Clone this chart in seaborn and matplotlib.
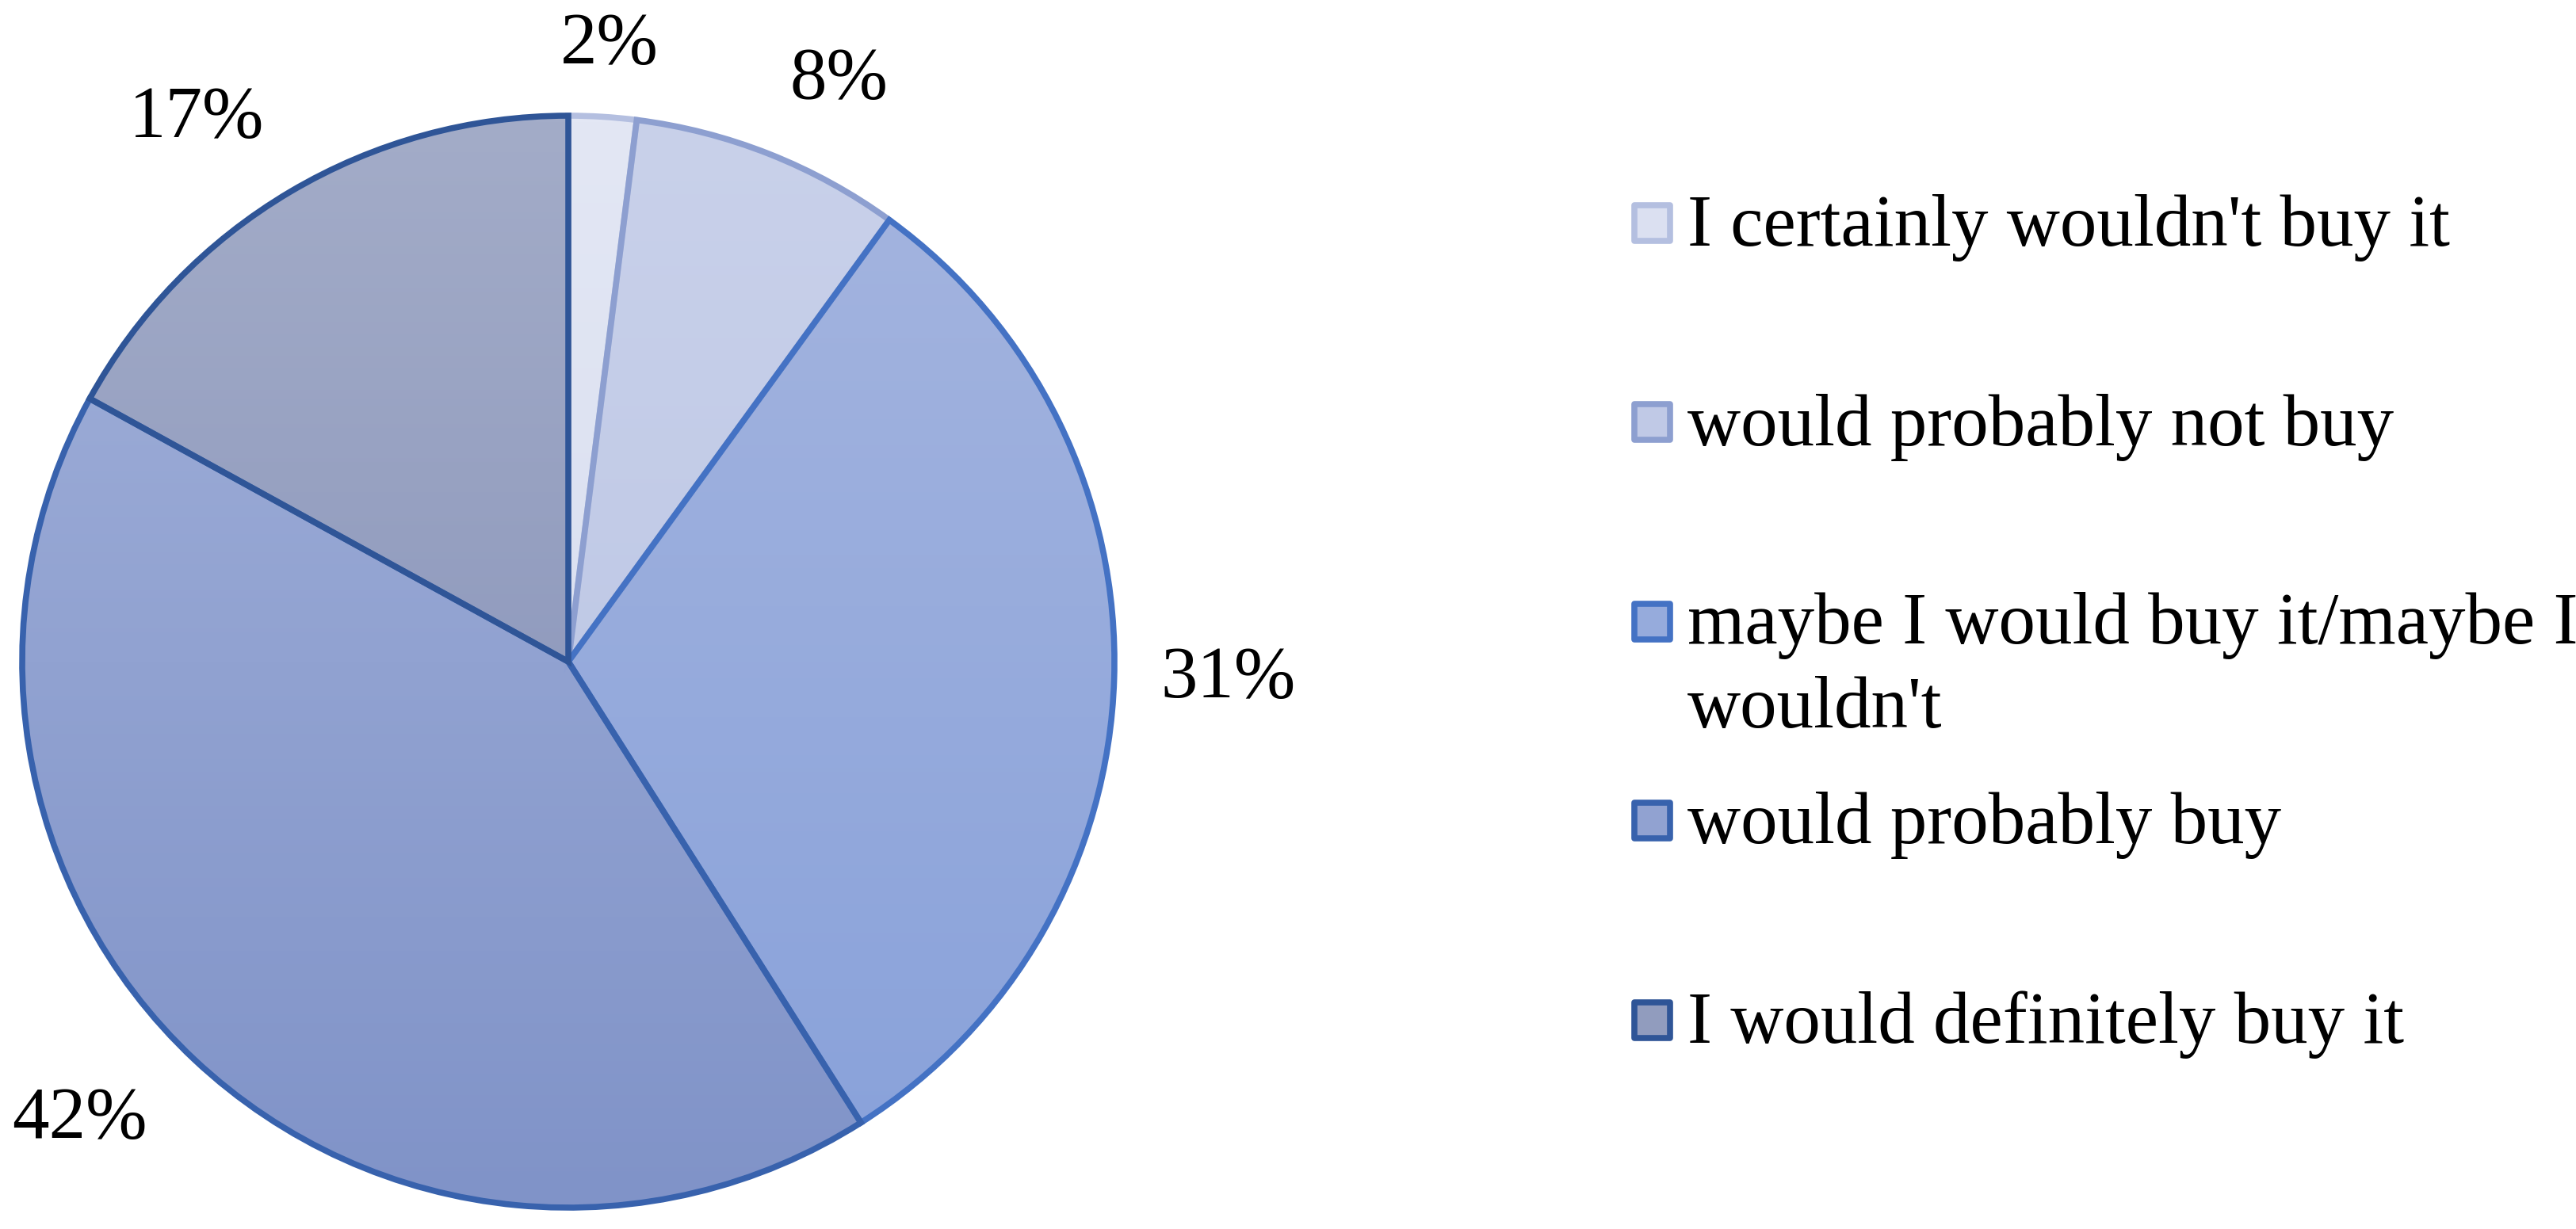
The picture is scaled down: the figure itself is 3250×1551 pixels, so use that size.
import numpy as np
import matplotlib
matplotlib.use("Agg")
import matplotlib.pyplot as plt
import seaborn as sns
from matplotlib.patches import Rectangle

# ---- data ----
categories = [
    "I certainly wouldn't buy it",
    "would probably not buy",
    "maybe I would buy it/maybe I\nwouldn't",
    "would probably buy",
    "I would definitely buy it",
]
shares = [2, 8, 31, 42, 17]
pct_labels = ["2%", "8%", "31%", "42%", "17%"]

# ---- styles ----
fill_top = ["#e3e7f4", "#c9d1ea", "#a5b5df", "#a2b1da", "#a3acc8"]
fill_bottom = ["#d3daee", "#b7c2e3", "#88a1da", "#8093c8", "#808cb5"]
edge_cols = ["#b4bfe0", "#8d9fd0", "#4472c4", "#3862ad", "#2f5597"]
label_pos = [(0.075, 1.128), (0.495, 1.064), (1.208, -0.032), (-0.895, -0.839), (-0.681, 0.993)]

sns.set_theme(style="white")
plt.rcParams['font.family'] = ['Liberation Serif', 'DejaVu Serif']
plt.rcParams['text.color'] = 'black'

W, H = 3250, 1551
fig = plt.figure(figsize=(W / 100, H / 100), dpi=100)
cx, cy, R = 717, 835, 689
ax = fig.add_axes([(cx - R) / W, (H - cy - R) / H, 2 * R / W, 2 * R / H])
ax.set_aspect("equal")

wedges, _ = ax.pie(shares, startangle=90, counterclock=False, radius=1,
                   wedgeprops=dict(linewidth=5.5, joinstyle="miter"))
grad = np.linspace(1, 0, 256).reshape(-1, 1)
for i, w in enumerate(wedges):
    w.set_facecolor("none")
    w.set_edgecolor(edge_cols[i])
    w.set_zorder(2 + i)
    cmap = sns.blend_palette([fill_bottom[i], fill_top[i]], as_cmap=True)
    im = ax.imshow(grad, extent=(-1, 1, -1, 1), cmap=cmap, aspect="auto",
                   zorder=1, interpolation="bilinear")
    im.set_clip_path(w)

for (x, y), t in zip(label_pos, pct_labels):
    ax.text(x, y, t, fontsize=67, ha="center", va="center", clip_on=False,
            color="black")

ax.set_xlim(-1, 1)
ax.set_ylim(-1, 1)
ax.axis("off")

# ---- legend ----
base0, step, line_gap = 310, 251.5, 105
for i, cat in enumerate(categories):
    b = base0 + step * i
    nlines = cat.count("\n")
    mid = sns.blend_palette([fill_top[i], fill_bottom[i]], 3)[1]
    fig.patches.append(Rectangle((2062 / W, (H - (b - 29) - 22.5) / H), 45 / W, 45 / H,
                                 transform=fig.transFigure, facecolor=mid,
                                 edgecolor=edge_cols[i], linewidth=5.5, joinstyle="round"))
    fig.text(2129 / W, (H - b - line_gap * nlines) / H, cat, fontsize=67, ha="left",
             va="baseline", linespacing=1.32, color="black")

fig.savefig("out.png", dpi=100, facecolor="white")
